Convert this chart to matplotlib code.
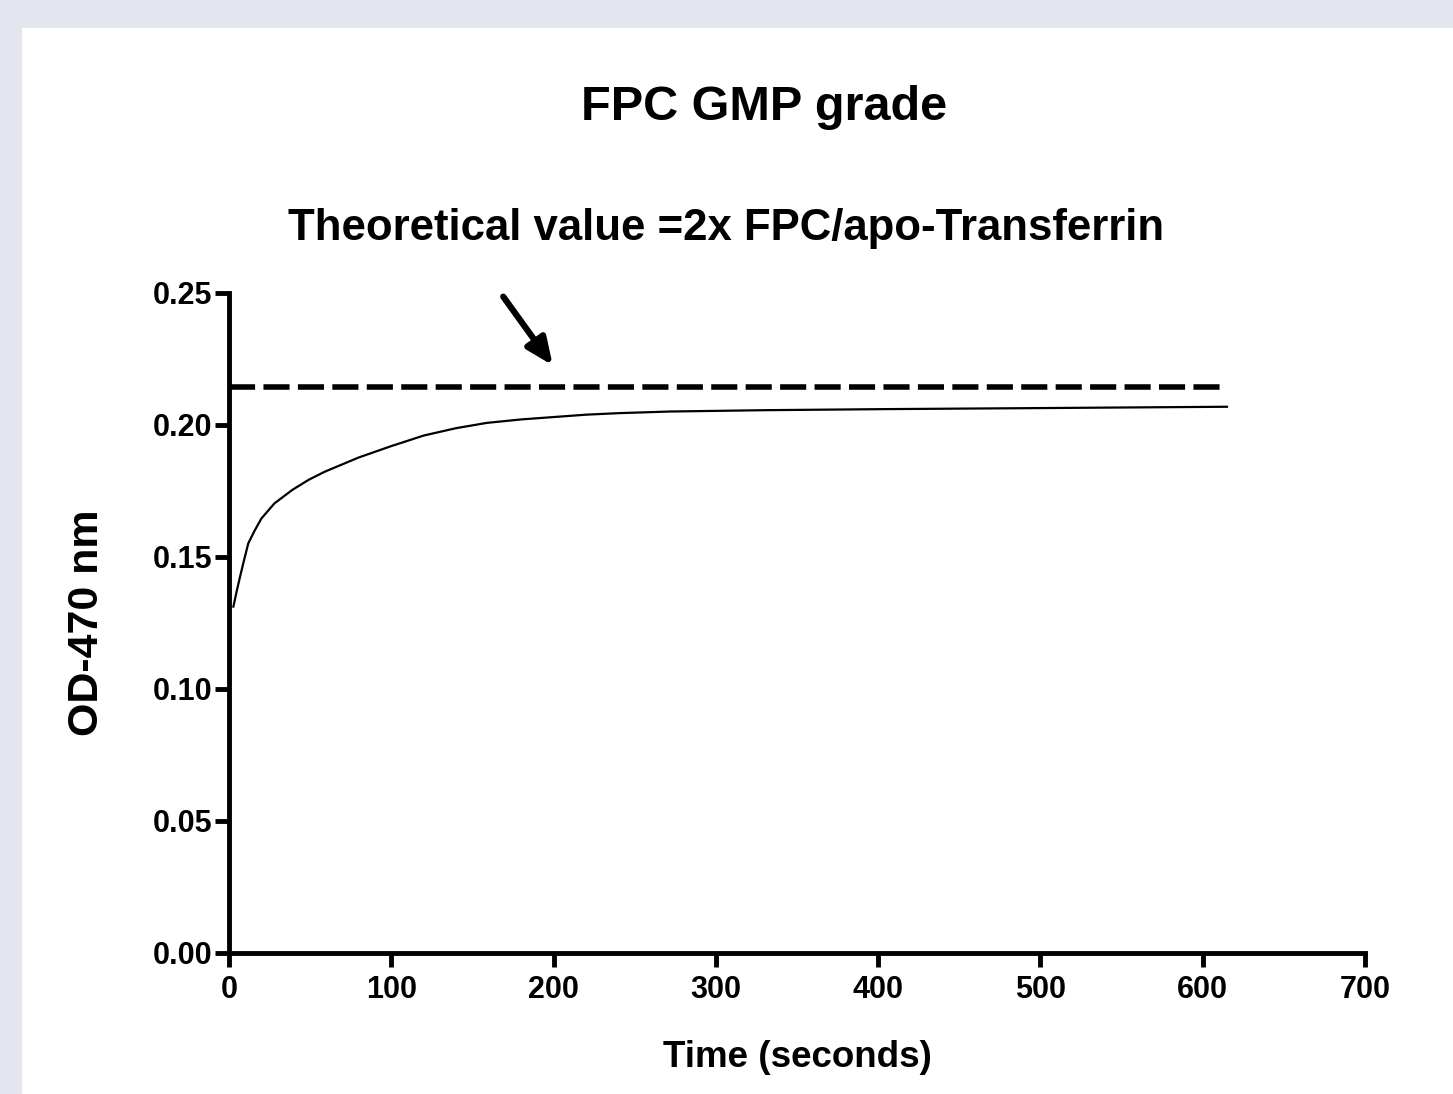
import matplotlib
matplotlib.use('Agg')
import matplotlib.pyplot as plt
from matplotlib.patches import Rectangle

plt.rcParams['font.family'] = ['Liberation Sans', 'DejaVu Sans']
plt.rcParams['font.weight'] = 'bold'

time_s = [2.7, 4.7, 6.8, 8.8, 11.9, 16, 20, 28, 39, 49, 59, 80, 100, 120, 140,
          159, 180, 200, 220, 241, 272, 330, 403, 500, 615]
od470 = [0.1312, 0.1369, 0.1425, 0.1476, 0.1552, 0.1602, 0.1646, 0.1703, 0.1754,
         0.1792, 0.1823, 0.1877, 0.1920, 0.1960, 0.1988, 0.2008, 0.2021, 0.2030,
         0.2039, 0.2045, 0.2051, 0.2056, 0.2060, 0.2064, 0.2069]

# theoretical value line
theory_x = [0, 612]
theory_y = [0.2145, 0.2145]

x_ticks = [0, 100, 200, 300, 400, 500, 600, 700]
y_ticks = [0.00, 0.05, 0.10, 0.15, 0.20, 0.25]

fig = plt.figure(figsize=(14.53, 10.94), dpi=100, facecolor='#e3e6ef')
fig.patches.append(Rectangle((22 / 1453, 0), 1, 1 - 28 / 1094, transform=fig.transFigure,
                             facecolor='white', edgecolor='none', zorder=-10))

ax = fig.add_axes([0.1576, 0.1289, 0.7818, 0.6033])
ax.set_facecolor('none')

ax.plot(time_s, od470, color='black', lw=1.6)
ax.plot(theory_x, theory_y, color='black', lw=4, dashes=(4.7, 1.5))

ax.set_xlim(0, 700)
ax.set_ylim(0, 0.25)
ax.set_xticks(x_ticks)
ax.set_yticks(y_ticks)
ax.set_yticklabels(['%.2f' % v for v in y_ticks])

for s in ['top', 'right']:
    ax.spines[s].set_visible(False)
for s in ['left', 'bottom']:
    ax.spines[s].set_linewidth(3.5)
ax.tick_params(direction='out', length=10, width=3.5, labelsize=22)
ax.tick_params(axis='x', pad=6)
ax.tick_params(axis='y', pad=2)

ax.set_xlabel('Time (seconds)', fontsize=26.5, fontweight='bold', va='center')
ax.xaxis.set_label_coords(0.5, -0.1576)
ax.set_ylabel('OD-470 nm', fontsize=31, fontweight='bold', va='center')
ax.yaxis.set_label_coords(-0.1253, 0.5)

fig.text(0.526, 0.902, 'FPC GMP grade', ha='center', va='center', fontsize=35, fontweight='bold')
fig.text(0.5, 0.791, 'Theoretical value =2x FPC/apo-Transferrin', ha='center', va='center',
         fontsize=31.5, fontweight='bold')

ax.annotate('', xy=(199.5, 0.2226), xytext=(169, 0.2486), annotation_clip=False,
            arrowprops=dict(arrowstyle='-|>,head_length=0.8,head_width=0.35', mutation_scale=20,
                            lw=4.5, color='black', shrinkA=0, shrinkB=0))

fig.savefig('out.png', dpi=100, facecolor=fig.get_facecolor())
